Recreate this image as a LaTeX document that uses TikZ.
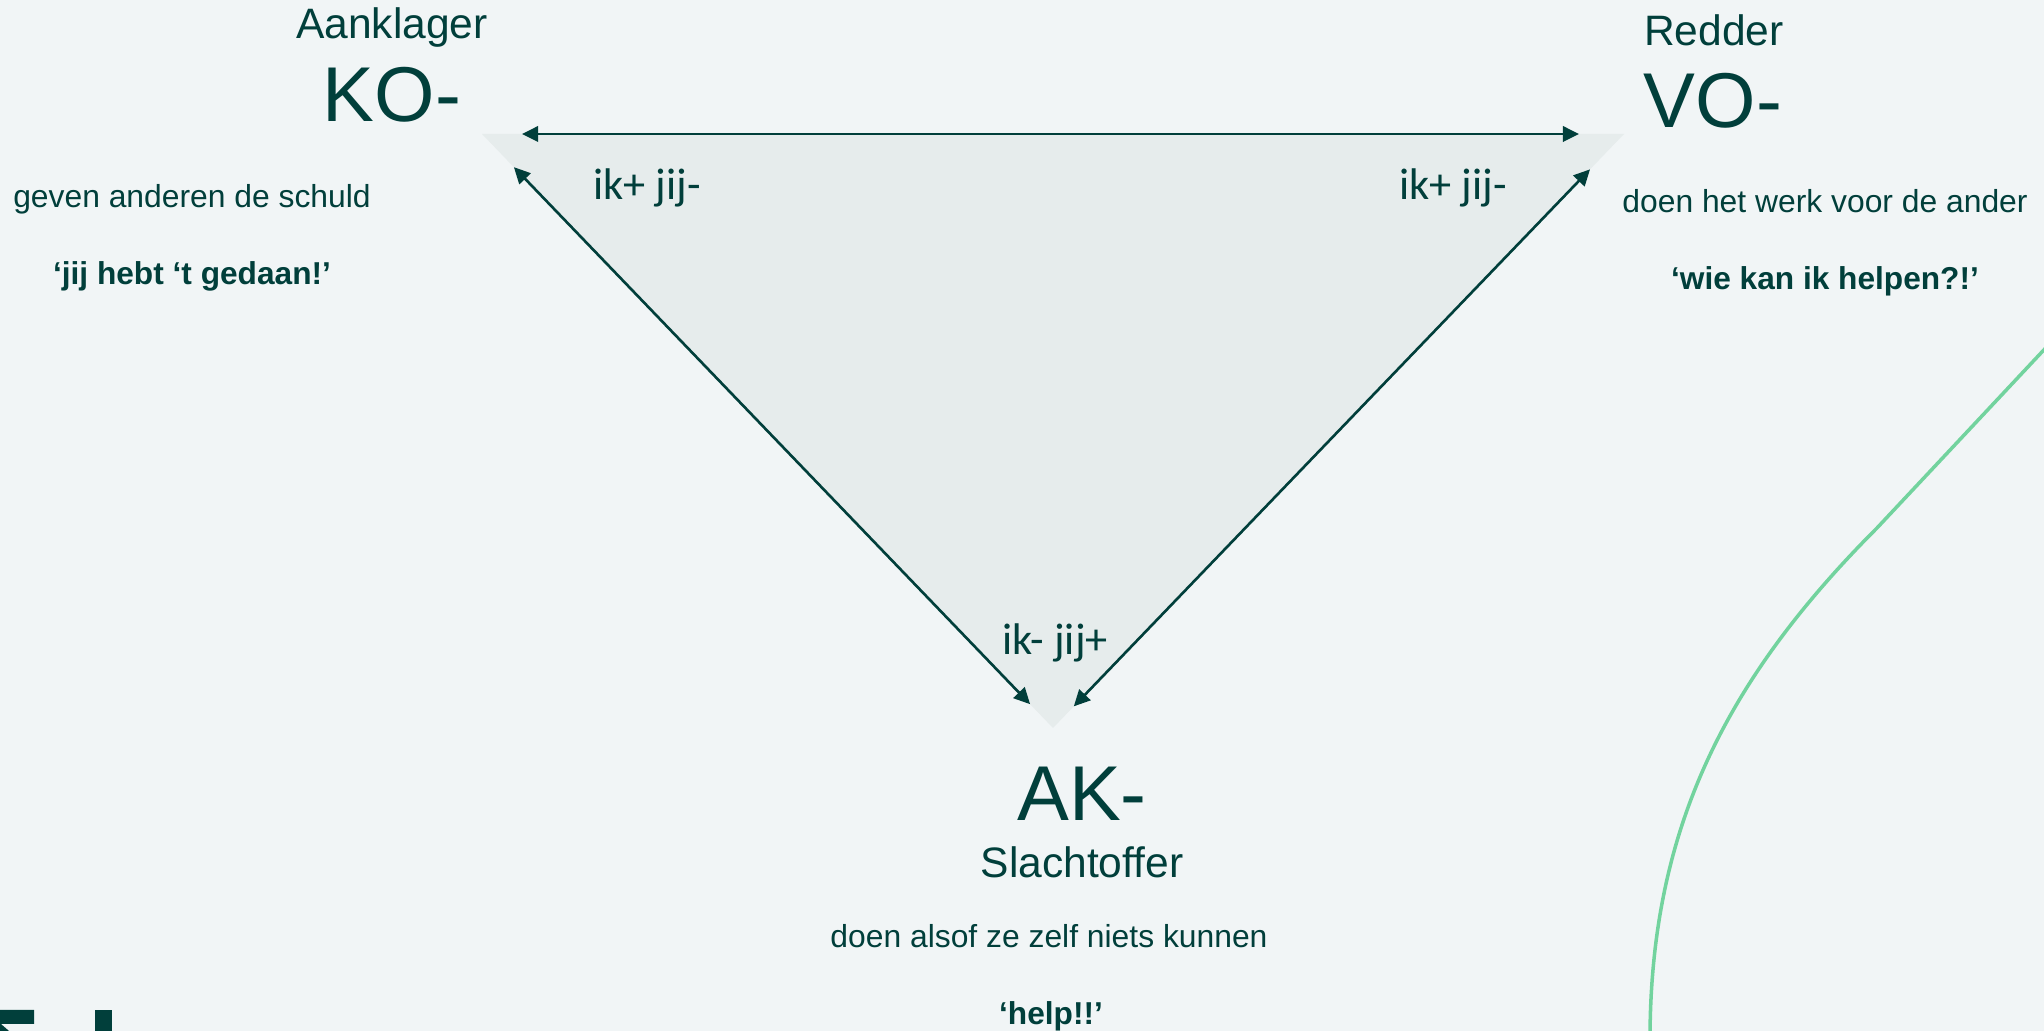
\documentclass[tikz,border=0pt]{standalone}
\usepackage{fontspec}
\setmainfont{Liberation Sans}
\newfontfamily\calibri{Carlito}
\usepackage{tikz}
\usetikzlibrary{arrows.meta,positioning}
\definecolor{Teal}{HTML}{013F3B}
\definecolor{Paper}{HTML}{F1F5F6}
\definecolor{TriF}{HTML}{E6ECEC}
\definecolor{Mint}{HTML}{72D39E}

\begin{document}
\begin{tikzpicture}[x=0.01cm,y=-0.01cm,
    rolename/.style={text=Teal,font=\fontsize{12.1pt}{14pt}\selectfont,inner sep=0pt,anchor=base},
    egostate/.style={text=Teal,font=\fontsize{22.1pt}{26pt}\selectfont,inner sep=0pt,anchor=base},
    remark/.style={text=Teal,font=\fontsize{9.05pt}{11pt}\selectfont,inner sep=0pt,anchor=base},
    slogan/.style={text=Teal,font=\fontsize{9pt}{11pt}\selectfont\bfseries,inner sep=0pt,anchor=base},
    stance/.style={text=Teal,font=\calibri\fontsize{12.6pt}{15pt}\selectfont,inner sep=0pt,anchor=base},
    link/.style={Teal,line width=0.75pt,{Triangle[length=4.6pt,width=4.4pt]}-{Triangle[length=4.6pt,width=4.4pt]}}]
  \useasboundingbox (0,0) rectangle (2044,1031);
  \fill[Paper] (0,0) rectangle (2044,1031);
  \clip (0,0) rectangle (2044,1031);

  % drama triangle
  \coordinate (K) at (482,134);
  \coordinate (V) at (1624,134);
  \coordinate (A) at (1053,728);
  \fill[TriF] (K) -- (V) -- (A) -- cycle;
  \draw[link,shorten <=0.40cm,shorten >=0.45cm] (K) -- (V);
  \draw[link,shorten <=0.46cm,shorten >=0.33cm] (K) -- (A);
  \draw[link,shorten <=0.49cm,shorten >=0.30cm] (V) -- (A);

  \node[stance] (kopos) at (647,200) {ik+ jij-};
  \node[stance] (vopos) at (1453,200) {ik+ jij-};
  \node[stance] (akpos) at (1055,655) {ik- jij+};

  % Aanklager
  \node[rolename] (aanklager) at (392,39) {Aanklager};
  \node[egostate] (KO) at (392,122) {KO-};
  \node[remark] (kotext) at (192,208) {geven anderen de schuld};
  \node[slogan] (koquote) at (192,285) {‘jij hebt ‘t gedaan!’};

  % Redder
  \node[rolename] (redder) at (1714,46) {Redder};
  \node[egostate] (VO) at (1713,128) {VO-};
  \node[remark] (votext) at (1825,213) {doen het werk voor de ander};
  \node[slogan] (voquote) at (1825,290) {‘wie kan ik helpen?!’};

  % Slachtoffer
  \node[egostate] (AK) at (1082,821) {AK-};
  \node[rolename] (slachtoffer) at (1082,878) {Slachtoffer};
  \node[remark] (aktext) at (1049,948) {doen alsof ze zelf niets kunnen};
  \node[slogan] (akquote) at (1051,1025) {‘help!!’};

  % decoration
  \draw[Mint,line width=1pt] (2100,290) -- (1877,528)
    .. controls (1725,680) and (1650,830) .. (1650,1040);
  \fill[Teal] (-5,1010) -- (34,1010) -- (34,1024) -- (1,1024) -- (9,1031)
    -- (-5,1031) -- cycle;
  \fill[Teal] (95,1010) rectangle (112,1031);
\end{tikzpicture}
\end{document}
